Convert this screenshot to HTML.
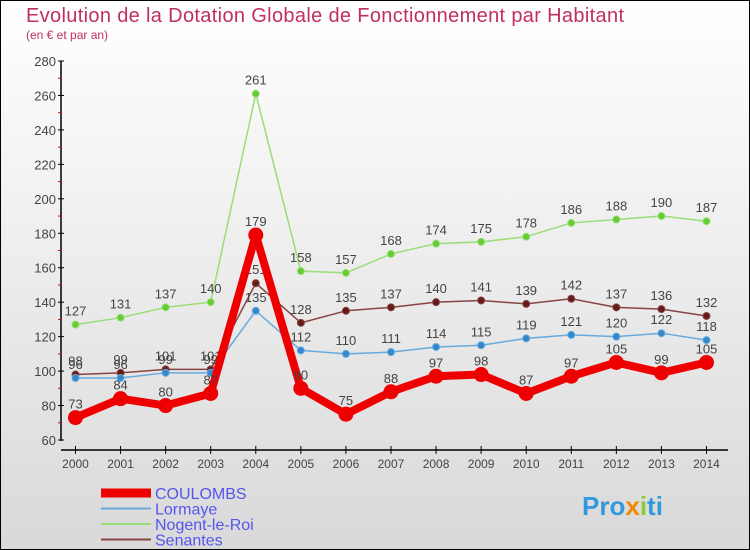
<!DOCTYPE html>
<html><head><meta charset="utf-8"><style>
body{margin:0}
#c{width:750px;height:550px;position:relative;box-sizing:border-box;border:1px solid #000;background:linear-gradient(#fff,#d9d9d9);font-family:"Liberation Sans",sans-serif;overflow:hidden}
</style></head><body>
<div id="c">
<svg id="s" width="750" height="550" style="position:absolute;left:-1px;top:-1px">
<text x="26" y="22" font-size="20" fill="#c0305a" textLength="598">Evolution de la Dotation Globale de Fonctionnement par Habitant</text>
<text x="26" y="39" font-size="12" fill="#c0305a">(en € et par an)</text>
</svg>
</div>
<script>
const years=[2000,2001,2002,2003,2004,2005,2006,2007,2008,2009,2010,2011,2012,2013,2014];
const coulombs=[73,84,80,87,179,90,75,88,97,98,87,97,105,99,105];
const lormaye=[96,96,99,99,135,112,110,111,114,115,119,121,120,122,118];
const nogent=[127,131,137,140,261,158,157,168,174,175,178,186,188,190,187];
const senantes=[98,99,101,101,151,128,135,137,140,141,139,142,137,136,132];
const yTicks=[60,80,100,120,140,160,180,200,220,240,260,280];
const NS='http://www.w3.org/2000/svg';
const s=document.getElementById('s');
const X=i=>75.5+i*45.07;
const Y=v=>440-(v-60)*(379/220);
function mk(t,a,p){const e=document.createElementNS(NS,t);for(const k in a)e.setAttribute(k,a[k]);(p||s).appendChild(e);return e;}
const ax=mk('g',{});


mk('line',{x1:61,y1:Y(280),x2:61,y2:441,stroke:'#000','stroke-width':1.5},ax);
mk('line',{x1:61,y1:450,x2:728,y2:450,stroke:'#000','stroke-width':1.5},ax);
yTicks.forEach(v=>{
 mk('line',{x1:58,y1:Y(v),x2:64,y2:Y(v),stroke:'#000'},ax);
 if(v<280) mk('line',{x1:58,y1:Y(v+10),x2:61,y2:Y(v+10),stroke:'#e00'},ax);
 const t=mk('text',{x:56,y:Y(v)+5,'font-size':13,fill:'#444','text-anchor':'end'},ax);t.textContent=v;
 
 
});
years.forEach((yr,i)=>{
 mk('line',{x1:X(i),y1:446,x2:X(i),y2:454,stroke:'#000'},ax);
 const t=mk('text',{x:X(i),y:468,'font-size':12,fill:'#444','text-anchor':'middle'},ax);t.textContent=yr;
 
 
});
function series(name,data,line,dot,w,r){
 const g=mk('g',{});
 
 
 mk('polyline',{points:data.map((v,i)=>X(i)+','+Y(v)).join(' '),fill:'none',stroke:line,'stroke-width':w,'stroke-linejoin':'round'},g);
 data.forEach((v,i)=>{
  const c=mk('circle',{cx:X(i),cy:Y(v),r:r,fill:dot,stroke:line,'stroke-width':1},g);
  
  
  const t=mk('text',{x:X(i),y:Y(v)-9,'font-size':13,fill:'#444','text-anchor':'middle'},g);t.textContent=v;
  
  
 });
}
series('nogent',nogent,'#99dd77','#66cc33',1.5,3.5);
series('senantes',senantes,'#884444','#661a1a',1.5,3.5);
series('lormaye',lormaye,'#66aadd','#3388cc',1.5,3.5);
series('coulombs',coulombs,'#ee0000','#ee0000',8,7);
const lg=[['COULOMBS','#ee0000',9],['Lormaye','#66aadd',2],['Nogent-le-Roi','#99dd77',2],['Senantes','#884444',2]];
lg.forEach((l,i)=>{
 const y=493+i*15.5;
 const g=mk('g',{});
 
 
 mk('line',{x1:101,y1:y,x2:151,y2:y,stroke:l[1],'stroke-width':l[2]},g);
 const t=mk('text',{x:155,y:y+6,'font-size':16,fill:'#5555ee'},g);t.textContent=l[0];
});
const lo=mk('text',{x:582,y:515,'font-size':26,'font-weight':'bold',fill:'#3399dd'});


lo.innerHTML='Pro<tspan fill="#f08a00">x</tspan><tspan fill="#88cc33">i</tspan>ti';
</script>
</body></html>
